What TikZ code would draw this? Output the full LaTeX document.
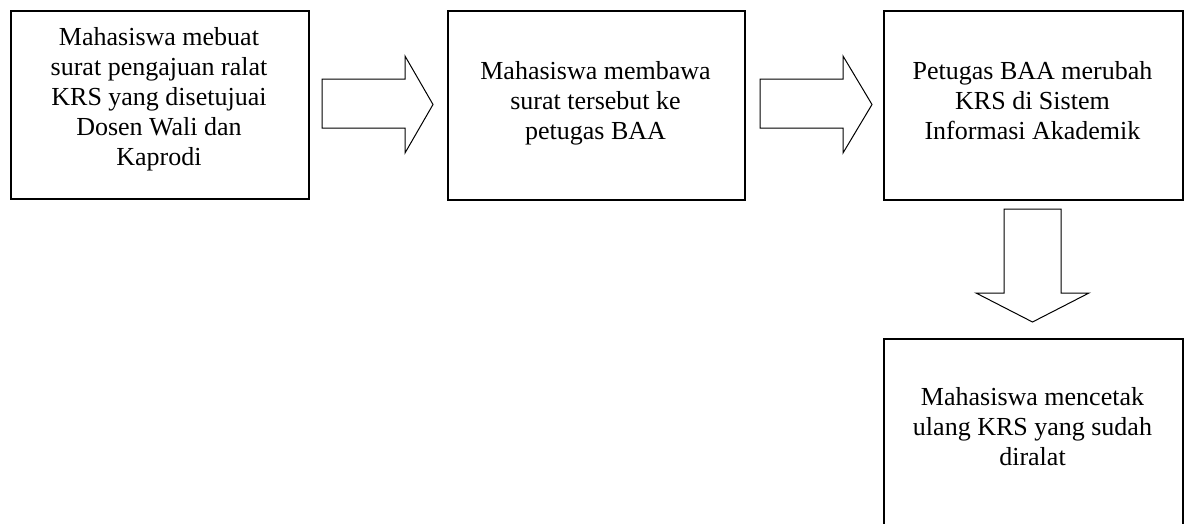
\documentclass[tikz,border=0pt]{standalone}
\usepackage{fontspec}
\setmainfont{Liberation Serif}
\begin{document}
\begin{tikzpicture}[x=1pt,y=-1pt,
  box/.style={draw,line width=1.6pt,rectangle,inner sep=0pt,anchor=north west},
  txt/.style={align=center,inner sep=0pt,anchor=north,font=\fontsize{26}{30}\selectfont},
  blockarrow/.style={draw,line width=1pt,line join=miter,fill=white}]
\useasboundingbox (0,0) rectangle (1189,523);
\clip (0,0) rectangle (1189,523);
\node[box,minimum width=298pt,minimum height=188pt] (b1) at (10,10) {};
\node[box,minimum width=297pt,minimum height=189pt] (b2) at (447,10) {};
\node[box,minimum width=299pt,minimum height=189pt] (b3) at (883,10) {};
\node[box,minimum width=299pt,minimum height=220pt] (b4) at (883,338) {};
\node[txt] (t1) at (159,23.7) {\rule{0pt}{22pt}Mahasiswa mebuat\\surat pengajuan ralat\\KRS yang disetujuai\\Dosen Wali dan\\Kaprodi};
\node[txt] (t2) at (595.5,57) {\rule{0pt}{22pt}Mahasiswa membawa\\surat tersebut ke\\petugas BAA};
\node[txt] (t3) at (1032.5,57) {\rule{0pt}{22pt}Petugas BAA merubah\\KRS di Sistem\\Informasi Akademik};
\node[txt] (t4) at (1032.5,383) {\rule{0pt}{22pt}Mahasiswa mencetak\\ulang KRS yang sudah\\diralat};
\draw[blockarrow] (322,79) -- (405,79) -- (405,56) -- (433,104.5) -- (405,153) -- (405,128) -- (322,128) -- cycle;
\draw[blockarrow] (760,79) -- (843,79) -- (843,56) -- (872,104.5) -- (843,153) -- (843,128) -- (760,128) -- cycle;
\draw[blockarrow] (1004,209) -- (1004,293) -- (976,293) -- (1032.5,322) -- (1089,293) -- (1061,293) -- (1061,209) -- cycle;
\end{tikzpicture}
\end{document}
